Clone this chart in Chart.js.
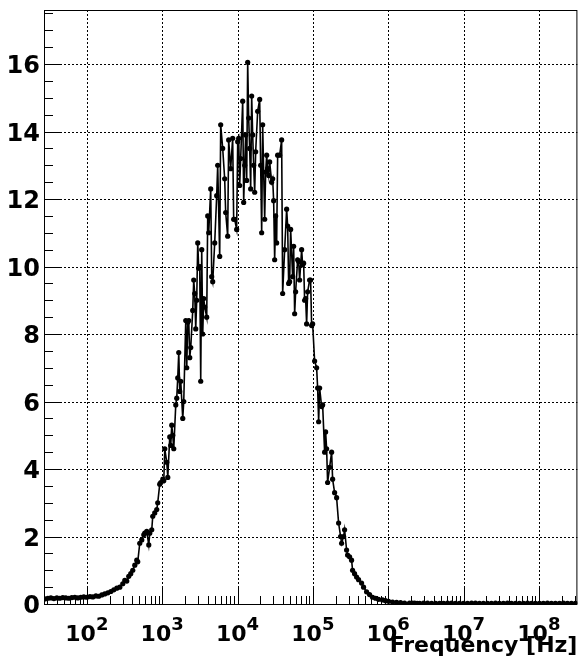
<!DOCTYPE html>
<html>
<head>
<meta charset="utf-8">
<title>Frequency spectrum</title>
<script src="https://cdn.jsdelivr.net/npm/chart.js@4.4.0/dist/chart.umd.min.js"></script>
<style>
  html, body { margin: 0; padding: 0; background: #fff; }
  #wrap { width: 580px; height: 666px; position: relative; }
</style>
</head>
<body>
<div id="wrap"><canvas id="spectrum"></canvas></div>
<script>
"use strict";

// frequency of each measured point [Hz]
const freq = [
  27.7, 30.4, 33.3, 36.5, 40.0, 43.8, 48.0, 52.6, 57.7, 63.2, 69.3, 75.9, 83.2, 91.2,
  100, 110, 120, 132, 144, 158, 173, 190, 208, 228, 250, 274, 300, 319, 339, 360, 383,
  407, 433, 460, 474, 504, 536, 570, 587, 624, 664, 684, 727, 750, 797, 847, 873, 928, 957,
  1020, 1050, 1083, 1151, 1187, 1261, 1300, 1340, 1382, 1425, 1515, 1561, 1610, 1660,
  1711, 1764, 1876, 1934, 2056, 2120, 2185, 2253, 2323, 2395, 2545, 2624, 2705, 2789,
  2875, 2965, 3056, 3151, 3249, 3350, 3453, 3560, 3671, 3902, 4023, 4148, 4409, 4546,
  4687, 4982, 5295, 5459, 5802, 5982, 6358, 6758, 6967, 7406, 7635, 8115, 8626, 8893,
  9168, 9745,
  10060, 10370, 10690, 11020, 11720, 12080, 12450, 12840, 13240, 13650, 14070, 14510,
  14960, 15420, 15900, 16390, 16900, 17420, 18520, 19690, 20300, 20930, 21580, 22940,
  23650, 24390, 25140, 25920, 26720, 28400, 29290, 30190, 31130, 32090, 33090, 34110,
  36270, 38550, 39750, 42250, 44920, 46310, 47750, 49230, 50750, 53950, 55630, 57350,
  59130, 62850, 64800, 66810, 71010, 73220, 75480, 77820, 80240, 82720, 85290, 90660,
  93470, 96370, 99400,
  105600, 112300, 115800, 119400, 123100, 130800, 134900, 143400, 147800, 152400, 157100,
  167000, 177500, 183000, 194500, 206800, 219800, 233600, 240900, 256000, 264000, 280600,
  289300, 307500, 326900, 337000, 358200, 380800, 404800, 443600, 471500, 516700, 566300,
  620500, 680000, 745200, 842000, 922600,
  1.012e6, 1.144e6, 1.293e6, 1.46e6, 1.65e6, 1.92e6, 2.08e6, 2.24e6, 2.43e6, 2.61e6,
  2.95e6, 3.33e6, 3.77e6, 4.26e6, 4.81e6, 5.44e6, 6.14e6, 6.94e6, 7.84e6, 8.86e6,
  1.0e7, 1.13e7, 1.28e7, 1.44e7, 1.63e7, 1.84e7, 2.08e7, 2.35e7, 2.66e7, 3.0e7, 3.39e7,
  3.83e7, 4.33e7, 4.9e7, 5.53e7, 6.25e7, 7.07e7, 8.0e7, 9.0e7,
  1.02e8, 1.15e8, 1.3e8, 1.47e8, 1.66e8, 1.88e8, 2.12e8, 2.4e8, 2.71e8, 3.06e8
];

// measured value at each frequency
const amplitude = [
  0.15, 0.17, 0.18, 0.16, 0.18, 0.17, 0.19, 0.18, 0.17, 0.19, 0.2, 0.18, 0.2, 0.21,
  0.2, 0.22, 0.21, 0.24, 0.23, 0.27, 0.3, 0.33, 0.37, 0.42, 0.47, 0.5, 0.6, 0.7, 0.68, 0.82, 0.9,
  1.0, 1.15, 1.3, 1.25, 1.8, 1.9, 2.05, 2.1, 2.15, 1.75, 2.1, 2.2, 2.6, 2.7, 2.8, 3.0, 3.55, 3.6,
  3.7, 3.65, 4.6, 4.2, 3.75, 4.95, 4.7, 5.3, 5.0, 4.6, 5.9, 6.1, 6.7, 7.45,
  6.3, 6.6, 5.5, 6.0, 8.4, 7.0, 8.35, 8.4, 7.3, 7.6, 8.7, 9.6, 9.2, 8.15,
  9.0, 10.7, 9.95, 10.0, 6.6, 10.5, 8.0, 9.05, 8.8, 8.5, 11.5, 11.0, 12.3, 9.7,
  9.55, 10.7, 12.1, 13.0, 10.3, 14.2, 13.5, 12.6, 11.6, 10.9, 13.75, 12.9, 13.8, 11.4,
  11.4, 11.1,
  13.7, 13.8, 12.4, 13.2, 14.9, 11.9, 13.0, 13.9, 12.55, 16.05, 14.4, 13.5,
  12.3, 15.05, 13.9, 13.0, 12.2, 13.4, 14.6, 14.95, 13.0, 11.0, 14.2, 11.4,
  12.8, 13.3, 12.9, 12.7, 13.1, 12.5, 12.6, 11.95, 10.2, 11.5, 10.7, 13.3,
  13.3, 13.75, 9.2, 10.5, 11.7, 11.2, 9.5, 9.55, 11.1, 9.7, 10.6, 8.6,
  9.25, 10.2, 10.15, 9.6, 10.5, 10.05, 10.1, 9.0, 9.05, 8.3, 9.25, 9.6,
  9.6, 8.25, 8.3,
  7.2, 7.0, 6.4, 5.4, 6.4, 5.85, 5.9, 4.5, 5.1, 4.6, 3.6,
  4.05, 4.5, 3.7, 3.3, 3.15, 2.4, 2.0, 1.8, 2.0, 2.2, 1.6,
  1.45, 1.4, 1.3, 1.0, 0.9, 0.8, 0.72, 0.62, 0.5, 0.36, 0.28,
  0.2, 0.17, 0.14, 0.12, 0.1,
  0.08, 0.06, 0.05, 0.04, 0.03, 0.03, 0.03, 0.03, 0.02, 0.02,
  0.03, 0.03, 0.02, 0.02, 0.02, 0.02, 0.03, 0.03, 0.02, 0.02,
  0.02, 0.02, 0.03, 0.03, 0.02, 0.02, 0.02, 0.02, 0.03, 0.02, 0.02,
  0.03, 0.02, 0.02, 0.02, 0.02, 0.03, 0.02, 0.02,
  0.02, 0.02, 0.03, 0.02, 0.02, 0.02, 0.03, 0.02, 0.02, 0.02
];

// axis ticks
const xDecades = [2, 3, 4, 5, 6, 7, 8];
const yTickValues = [0, 2, 4, 6, 8, 10, 12, 14, 16];

const FONT = "'DejaVu Sans', 'Liberation Sans', sans-serif";

// ROOT-like frame: dotted grid, inside ticks, superscript decade labels
const rootFrame = {
  id: 'rootFrame',
  beforeDatasetsDraw(chart) {
    const { ctx, chartArea: a, scales: { x, y } } = chart;
    ctx.save();
    ctx.strokeStyle = '#000';
    ctx.lineWidth = 1;
    ctx.setLineDash([2, 2]);
    ctx.beginPath();
    xDecades.forEach(e => {
      const px = Math.round(x.getPixelForValue(Math.pow(10, e))) + 0.5;
      ctx.moveTo(px, a.top);
      ctx.lineTo(px, a.bottom);
    });
    yTickValues.forEach(v => {
      if (v === 0) return;
      const py = Math.round(y.getPixelForValue(v)) + 0.5;
      ctx.moveTo(a.left, py);
      ctx.lineTo(a.right, py);
    });
    ctx.stroke();
    ctx.restore();
  },
  afterDraw(chart) {
    const { ctx, chartArea: a, scales: { x, y } } = chart;
    ctx.save();
    ctx.strokeStyle = '#000';
    ctx.lineWidth = 1;
    ctx.setLineDash([]);
    ctx.beginPath();
    // y ticks, pointing into the frame
    for (let v = 0; v <= y.max + 1e-9; v += 0.5) {
      const py = Math.round(y.getPixelForValue(v)) + 0.5;
      const len = (v % 2 === 0) ? 18 : 9;
      ctx.moveTo(a.left, py);
      ctx.lineTo(a.left + len, py);
    }
    // x ticks on the log axis
    for (let e = 1; e <= 8; e++) {
      for (let m = 1; m <= 9; m++) {
        const f = m * Math.pow(10, e);
        if (f < x.min || f > x.max) continue;
        const px = Math.round(x.getPixelForValue(f)) + 0.5;
        const len = (m === 1) ? 17 : 8;
        ctx.moveTo(px, a.bottom);
        ctx.lineTo(px, a.bottom - len);
      }
    }
    ctx.stroke();
    ctx.strokeRect(a.left + 0.5, a.top + 0.5, a.right - a.left - 1, a.bottom - a.top);

    // decade labels 10^n
    ctx.fillStyle = '#000';
    ctx.textBaseline = 'alphabetic';
    ctx.textAlign = 'left';
    const baseFont = 'bold 22px ' + FONT;
    const expFont = 'bold 18px ' + FONT;
    xDecades.forEach(e => {
      const px = x.getPixelForValue(Math.pow(10, e));
      ctx.font = baseFont;
      const wBase = ctx.measureText('10').width;
      ctx.font = expFont;
      const wExp = ctx.measureText(String(e)).width;
      const x0 = px - (wBase + wExp) / 2;
      ctx.font = baseFont;
      ctx.fillText('10', x0, 641);
      ctx.font = expFont;
      ctx.fillText(String(e), x0 + wBase, 630);
    });
    ctx.restore();
  }
};

const ctx = document.getElementById('spectrum').getContext('2d');
new Chart(ctx, {
  type: 'line',
  data: {
    datasets: [{
      label: 'spectrum',
      data: freq.map((f, i) => ({ x: f, y: amplitude[i] })),
      borderColor: '#000',
      backgroundColor: '#000',
      borderWidth: 1.6,
      pointRadius: 2.6,
      pointHoverRadius: 2.6,
      pointBorderWidth: 0,
      tension: 0,
      fill: false
    }]
  },
  options: {
    responsive: true,
    maintainAspectRatio: false,
    animation: false,
    layout: { padding: { top: 10, right: 2, left: 0, bottom: 0 } },
    plugins: {
      legend: { display: false },
      tooltip: { enabled: false }
    },
    scales: {
      x: {
        type: 'logarithmic',
        min: 27,
        max: 3.25e8,
        grid: { display: false, drawTicks: false },
        border: { display: false },
        ticks: { display: false },
        title: {
          display: true,
          text: 'Frequency [Hz]',
          align: 'end',
          color: '#000',
          font: { family: FONT, size: 22, weight: 'bold' },
          padding: { top: 0, bottom: 7 }
        },
        afterFit: s => { s.height = 62; s.paddingLeft = 0; s.paddingRight = 0; }
      },
      y: {
        type: 'linear',
        min: 0,
        max: 17.6,
        grid: { display: false, drawTicks: false },
        border: { display: false },
        ticks: {
          stepSize: 2,
          includeBounds: false,
          padding: 4,
          labelOffset: 3,
          color: '#000',
          font: { family: FONT, size: 24, weight: 'bold' },
          callback: v => (v % 2 === 0 ? String(v) : '')
        },
        afterFit: s => { s.width = 44; s.paddingTop = 0; s.paddingBottom = 0; }
      }
    }
  },
  plugins: [rootFrame]
});
</script>
</body>
</html>
